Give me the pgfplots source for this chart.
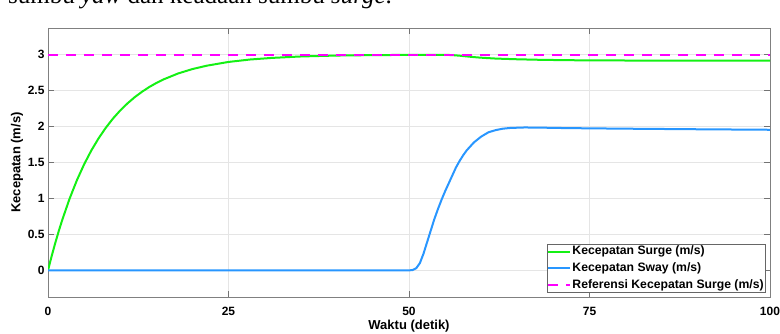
\documentclass[border=0pt]{standalone}
\usepackage{fontspec}
\setmainfont{Liberation Sans}
\newfontfamily\serifx{Liberation Serif}
\usepackage{pgfplots}
\pgfplotsset{compat=1.18}
\definecolor{cgreen}{RGB}{20,240,20}
\definecolor{cblue}{RGB}{40,150,255}
\definecolor{cmag}{RGB}{255,0,255}
\begin{document}
\begin{tikzpicture}
\node[anchor=base west, inner sep=0pt, font=\serifx\fontsize{25}{28}\selectfont] at (-40pt,293.7pt) {sumbu \textit{yaw} dan keadaan sumbu \textit{surge}.};
\begin{axis}[
  scale only axis, width=722pt, height=269pt,
  at={(0pt,0pt)}, anchor=south west,
  xmin=0, xmax=100, ymin=-0.37, ymax=3.37,
  xtick={0,25,50,75,100},
  ytick={0,0.5,1,1.5,2,2.5,3},
  tick align=inside, tick pos=both,
  major tick length=6pt,
  grid=major,
  grid style={color=black!10, line width=0.6pt},
  axis line style={color=black!50, line width=0.9pt},
  every tick/.style={color=black!55, line width=0.8pt},
  /pgf/number format/assume math mode=true,
  ticklabel style={font=\bfseries\fontsize{12}{14}\selectfont},
  xticklabel style={anchor=center, yshift=-14pt},
  xlabel={Waktu (detik)}, ylabel={Kecepatan (m/s)},
  label style={font=\bfseries\fontsize{13}{15}\selectfont},
  xlabel style={at={(axis description cs:0.5,0)}, anchor=center, yshift=-29pt},
  ylabel style={at={(axis description cs:0,0.5)}, anchor=center, yshift=31pt},
  legend cell align=left,
  legend image code/.code={\draw[#1] (0pt,0pt) -- (22pt,0pt);},
  legend style={at={(axis description cs:1,0)}, anchor=south east, xshift=-4.5pt, yshift=4.5pt,
    font=\bfseries\fontsize{12.2}{14}\selectfont, draw=black!60, line width=0.7pt,
    inner xsep=0.5pt, inner ysep=1pt,
    nodes={inner xsep=1pt, inner ysep=0pt, text height=9pt, text depth=3pt},
    row sep=4.7pt},
]
\addplot[cgreen, line width=2pt] coordinates {
(0,0) (0.5,0.196) (1,0.379) (1.5,0.550) (2,0.710) (3,1.000) (4,1.253) (5,1.474) (6,1.667) (7,1.835) (8,1.982) (9,2.111) (10,2.223) (11,2.321) (12,2.407) (13,2.482) (14,2.548) (15,2.605) (16,2.655) (18,2.737) (20,2.799) (22,2.846) (25,2.898) (28,2.932) (31,2.954) (35,2.974) (40,2.987) (45,2.993) (50,2.996) (55,2.997) (56,2.993) (57,2.985) (58,2.975) (59,2.965) (60,2.957) (62,2.945) (65,2.935) (68,2.928) (72,2.922) (80,2.918) (90,2.916) (100,2.915)
};
\addlegendentry{Kecepatan Surge (m/s)}
\addplot[cblue, line width=2pt] coordinates {
(0,0) (50,0) (50.5,0.005) (51,0.03) (51.5,0.10) (52,0.23) (52.5,0.39) (53,0.55) (53.5,0.71) (54,0.85) (54.5,0.98) (55,1.10) (55.5,1.21) (56,1.32) (56.5,1.43) (57,1.52) (57.5,1.60) (58,1.67) (59,1.78) (60,1.86) (61,1.92) (62,1.95) (63,1.97) (64,1.98) (66,1.987) (68,1.985) (72,1.978) (80,1.97) (90,1.962) (100,1.955)
};
\addlegendentry{Kecepatan Sway (m/s)}
\addplot[cmag, line width=2pt, dash pattern=on 10pt off 8pt] coordinates {(0,3) (100,3)};
\addlegendentry{Referensi Kecepatan Surge (m/s)}
\end{axis}
\pgfresetboundingbox
\path[use as bounding box] (-48pt,-37pt) rectangle (732pt,297pt);
\end{tikzpicture}
\end{document}
